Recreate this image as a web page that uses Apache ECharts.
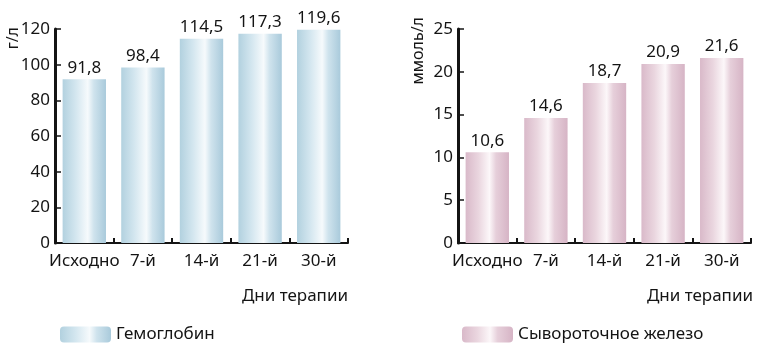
<!DOCTYPE html>
<html>
<head>
<meta charset="utf-8">
<script src="https://cdn.jsdelivr.net/npm/echarts@6/dist/echarts.min.js"></script>
<style>
	html, body { margin: 0; padding: 0; background: #fff; }
	#main { width: 760px; height: 349px; }
</style>
</head>
<body>
<div id="main"></div>
<script>
	// категории (дни терапии)
	var days = ['Исходно', '7-й', '14-й', '21-й', '30-й']
	// гемоглобин, г/л
	var hemoglobin = [91.8, 98.4, 114.5, 117.3, 119.6]
	// сывороточное железо, ммоль/л
	var serumIron = [10.6, 14.6, 18.7, 20.9, 21.6]
	var hbTicks = { max: 120, step: 20 }
	var feTicks = { max: 25, step: 5 }

	var font = 'Noto Sans'
	var ink = '#141414'

	var blueGrad = new echarts.graphic.LinearGradient(0, 0, 1, 0, [
		{ offset: 0, color: '#b2d1df' },
		{ offset: 0.3, color: '#d3e6ef' },
		{ offset: 0.58, color: '#f6fafc' },
		{ offset: 0.72, color: '#cfe3ed' },
		{ offset: 1, color: '#a9cadb' }
	])
	var pinkGrad = new echarts.graphic.LinearGradient(0, 0, 1, 0, [
		{ offset: 0, color: '#d9b9c9' },
		{ offset: 0.3, color: '#ead6df' },
		{ offset: 0.55, color: '#fcf7f9' },
		{ offset: 0.7, color: '#e6cfda' },
		{ offset: 1, color: '#d6b4c5' }
	])

	function xAxisOf(gridIndex) {
		return {
			type: 'category',
			gridIndex: gridIndex,
			data: days,
			axisLine: { lineStyle: { color: ink, width: 2 } },
			axisTick: { show: true, inside: true, length: 5, lineStyle: { color: ink, width: 2 } },
			axisLabel: { color: ink, fontFamily: font, fontSize: 17, margin: 10, interval: 0 },
			splitLine: { show: false }
		}
	}
	function yAxisOf(gridIndex, t) {
		return {
			type: 'value',
			gridIndex: gridIndex,
			min: 0,
			max: t.max,
			interval: t.step,
			axisLine: { show: true, lineStyle: { color: ink, width: 3 } },
			axisTick: { show: true, inside: true, length: 6, lineStyle: { color: ink, width: 1.5 } },
			axisLabel: { color: ink, fontFamily: font, fontSize: 17, margin: 5 },
			splitLine: { show: false }
		}
	}
	function labelFmt(p) {
		return String(p.value).replace('.', ',')
	}

	var myChart = echarts.init(document.getElementById('main'))
	var option = {
		animation: false,
		backgroundColor: '#fff',
		grid: [
			{ left: 55, right: 412, top: 29, bottom: 106 },
			{ left: 458, right: 9, top: 29, bottom: 106 }
		],
		xAxis: [xAxisOf(0), xAxisOf(1)],
		yAxis: [yAxisOf(0, hbTicks), yAxisOf(1, feTicks)],
		legend: [
			{
				left: 55, top: 321, itemWidth: 51, itemHeight: 16,
				data: ['Гемоглобин'],
				textStyle: { color: ink, fontFamily: font, fontSize: 17 }
			},
			{
				left: 457, top: 321, itemWidth: 51, itemHeight: 16,
				data: ['Сывороточное железо'],
				textStyle: { color: ink, fontFamily: font, fontSize: 17 }
			}
		],
		series: [
			{
				name: 'Гемоглобин',
				type: 'bar',
				xAxisIndex: 0, yAxisIndex: 0,
				barWidth: '74%',
				data: hemoglobin,
				itemStyle: { color: blueGrad },
				label: { show: true, position: 'top', distance: 3, color: ink, fontFamily: font, fontSize: 17, formatter: labelFmt }
			},
			{
				name: 'Сывороточное железо',
				type: 'bar',
				xAxisIndex: 1, yAxisIndex: 1,
				barWidth: '74%',
				data: serumIron,
				itemStyle: { color: pinkGrad },
				label: { show: true, position: 'top', distance: 3, color: ink, fontFamily: font, fontSize: 17, formatter: labelFmt }
			}
		],
		graphic: [
			{ type: 'text', x: 13, y: 27, rotation: Math.PI / 2,
				style: { text: 'г/л', fill: ink, font: '16px "Noto Sans"', textAlign: 'right', textVerticalAlign: 'middle' } },
			{ type: 'text', x: 418, y: 17, rotation: Math.PI / 2,
				style: { text: 'ммоль/л', fill: ink, font: '16px "Noto Sans"', textAlign: 'right', textVerticalAlign: 'middle' } },
			{ type: 'text', x: 348, y: 296,
				style: { text: 'Дни терапии', fill: ink, font: '17px "Noto Sans"', textAlign: 'right', textVerticalAlign: 'middle' } },
			{ type: 'text', x: 753, y: 296,
				style: { text: 'Дни терапии', fill: ink, font: '17px "Noto Sans"', textAlign: 'right', textVerticalAlign: 'middle' } }
		]
	}
	myChart.setOption(option, true)
</script>
</body>
</html>
